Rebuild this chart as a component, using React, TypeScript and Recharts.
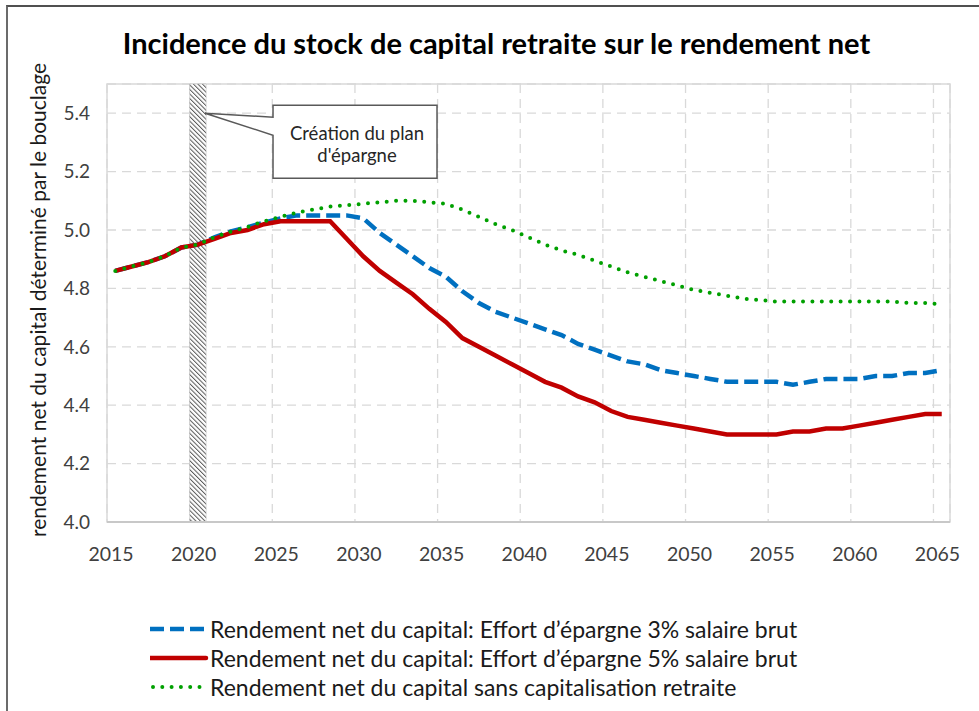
import React from 'react';
import { LineChart, Line, XAxis, YAxis, CartesianGrid, ReferenceArea, ReferenceDot, Label } from 'recharts';

const years = [
  2015, 2016, 2017, 2018, 2019, 2020, 2021, 2022, 2023, 2024,
  2025, 2026, 2027, 2028, 2029, 2030, 2031, 2032, 2033, 2034,
  2035, 2036, 2037, 2038, 2039, 2040, 2041, 2042, 2043, 2044,
  2045, 2046, 2047, 2048, 2049, 2050, 2051, 2052, 2053, 2054,
  2055, 2056, 2057, 2058, 2059, 2060, 2061, 2062, 2063, 2064, 2065,
];

// Effort d'épargne 3% salaire brut
const effort3 = [
  4.86, 4.875, 4.89, 4.91, 4.94, 4.95, 4.975, 4.995, 5.01, 5.025,
  5.04, 5.05, 5.05, 5.05, 5.05, 5.04, 4.99, 4.95, 4.91, 4.87,
  4.84, 4.79, 4.75, 4.72, 4.70, 4.68, 4.66, 4.64, 4.61, 4.59,
  4.57, 4.55, 4.54, 4.52, 4.51, 4.50, 4.49, 4.48, 4.48, 4.48,
  4.48, 4.47, 4.48, 4.49, 4.49, 4.49, 4.50, 4.50, 4.51, 4.51, 4.52,
];

// Effort d'épargne 5% salaire brut
const effort5 = [
  4.86, 4.875, 4.89, 4.91, 4.94, 4.95, 4.97, 4.99, 5.00, 5.02,
  5.03, 5.03, 5.03, 5.03, 4.97, 4.91, 4.86, 4.82, 4.78, 4.73,
  4.685, 4.63, 4.60, 4.57, 4.54, 4.51, 4.48, 4.46, 4.43, 4.41,
  4.38, 4.36, 4.35, 4.34, 4.33, 4.32, 4.31, 4.30, 4.30, 4.30,
  4.30, 4.31, 4.31, 4.32, 4.32, 4.33, 4.34, 4.35, 4.36, 4.37, 4.37,
];

// sans capitalisation retraite
const sansCapi = [
  4.86, 4.875, 4.89, 4.91, 4.94, 4.95, 4.975, 4.995, 5.01, 5.03,
  5.045, 5.06, 5.07, 5.08, 5.085, 5.09, 5.095, 5.10, 5.10, 5.095,
  5.09, 5.07, 5.045, 5.02, 5.00, 4.975, 4.95, 4.93, 4.915, 4.895,
  4.875, 4.855, 4.84, 4.825, 4.81, 4.795, 4.785, 4.775, 4.765, 4.76,
  4.755, 4.755, 4.755, 4.755, 4.755, 4.755, 4.755, 4.755, 4.75, 4.75, 4.745,
];

// gridlines sit on category boundaries (Excel "between tick marks")
const xGridTicks = [2014.5, 2019.5, 2024.5, 2029.5, 2034.5, 2039.5, 2044.5, 2049.5, 2054.5, 2059.5, 2064.5];
const xTickLabels = ['2015', '2020', '2025', '2030', '2035', '2040', '2045', '2050', '2055', '2060', '2065'];
const yTicks = [4.0, 4.2, 4.4, 4.6, 4.8, 5.0, 5.2, 5.4];

const seriesNames = [
  'Rendement net du capital: Effort d’épargne 3% salaire brut',
  'Rendement net du capital: Effort d’épargne 5% salaire brut',
  'Rendement net du capital sans capitalisation retraite',
];

const data = years.map((year, i) => ({
  year,
  effort3: effort3[i],
  effort5: effort5[i],
  sansCapi: sansCapi[i],
}));

const FONT = 'Lato, "Open Sans", sans-serif';
const BLUE = '#0070c0';
const RED = '#c00000';
const GREEN = '#00a000';

const XTick = (props: any) => {
  const { x, y, index } = props;
  return (
    <text x={x + 4} y={y} dy="0.71em" textAnchor="middle" fill="#404040" fontSize={19.5} fontFamily={FONT}>
      {xTickLabels[index]}
    </text>
  );
};

const Callout = (props: any) => {
  const { cx, cy } = props;
  const L = cx + 68;
  const R = cx + 232;
  const T = cy - 8;
  const B = cy + 65;
  const d = `M${L},${T} H${R} V${B} H${L} V${cy + 22} L${cx},${cy} L${L},${cy + 4} Z`;
  const mid = (L + R) / 2 + 2;
  return (
    <g>
      <path d={d} fill="#fff" stroke="#595959" strokeWidth={1.5} />
      <text x={mid} y={cy + 27} textAnchor="middle" fontSize={18.5} fill="#262626" fontFamily={FONT}>
        Création du plan
      </text>
      <text x={mid} y={cy + 49} textAnchor="middle" fontSize={18.5} fill="#262626" fontFamily={FONT}>
        d'épargne
      </text>
    </g>
  );
};

const LegendSample = ({ kind }: { kind: number }) => {
  if (kind === 0)
    return <line x1={0} y1={5} x2={56} y2={5} stroke={BLUE} strokeWidth={4.5} strokeDasharray="14 6" />;
  if (kind === 1)
    return <line x1={0} y1={5} x2={56} y2={5} stroke={RED} strokeWidth={4.5} strokeLinecap="round" />;
  return <line x1={3} y1={5} x2={56} y2={5} stroke={GREEN} strokeWidth={4} strokeDasharray="0 9.3" strokeLinecap="round" />;
};

export default function App() {
  return (
    <div style={{ position: 'absolute', left: 0, top: 0, width: 979, height: 711, background: '#fff', overflow: 'hidden', fontFamily: FONT }}>
      <div style={{ position: 'absolute', left: 6, top: 5, width: 1000, height: 720, borderLeft: '2px solid #6b6b6b', borderTop: '2px solid #505050' }} />
      <div style={{ position: 'absolute', left: 0, top: 25, width: 993, textAlign: 'center', fontSize: 29, fontWeight: 700, color: '#000' }}>
        Incidence du stock de capital retraite sur le rendement net
      </div>
      <div style={{ position: 'absolute', left: 0, top: 0 }}>
        <LineChart width={979} height={711} data={data} margin={{ top: 84, right: 29, bottom: 149, left: 47 }}>
          <defs>
            <pattern id="hatch" patternUnits="userSpaceOnUse" width={3.2} height={3.2} patternTransform="rotate(-45)">
              <rect width={3.2} height={3.2} fill="#fff" />
              <line x1={0} y1={0} x2={0} y2={3.2} stroke="#595959" strokeWidth={2} />
            </pattern>
          </defs>
          <CartesianGrid stroke="#d9d9d9" strokeWidth={1.3} strokeDasharray="9 6" />
          <XAxis
            type="number"
            dataKey="year"
            domain={[2014.5, 2065.5]}
            ticks={xGridTicks}
            interval={0}
            tick={<XTick />}
            tickLine={false}
            tickSize={6}
            tickMargin={19}
            height={40}
            axisLine={{ stroke: '#c8c8c8', strokeWidth: 2 }}
            allowDataOverflow
          />
          <YAxis
            type="number"
            domain={[4, 5.5]}
            ticks={yTicks}
            interval={0}
            width={60}
            tickLine={false}
            axisLine={false}
            tickSize={6}
            tickMargin={11}
            tickFormatter={(v: number) => v.toFixed(1)}
            tick={{ fill: '#404040', fontSize: 19, fontFamily: FONT }}
            allowDataOverflow
          >
            <Label
              content={(p: any) => {
                const vb = p.viewBox;
                const x = vb.x - 10;
                const y = vb.y + vb.height / 2 - 3;
                return (
                  <text x={x} y={y} transform={`rotate(-90 ${x} ${y})`} textAnchor="middle" dominantBaseline="central" fontSize={21} fill="#1a1a1a" fontFamily={FONT}>
                    rendement net du capital déterminé par le bouclage
                  </text>
                );
              }}
            />
          </YAxis>
          <ReferenceArea x1={2014.5} x2={2065.5} y1={4} y2={5.5} fill="none" stroke="#d9d9d9" strokeWidth={1.5} />
          <ReferenceArea x1={2019.5} x2={2020.5} y1={4} y2={5.5} fill="url(#hatch)" fillOpacity={1} stroke="#bfbfbf" strokeWidth={0.5} />
          <Line type="linear" dataKey="effort3" name={seriesNames[0]} stroke={BLUE} strokeWidth={4.5} strokeDasharray="14 6" dot={false} isAnimationActive={false} />
          <Line type="linear" dataKey="effort5" name={seriesNames[1]} stroke={RED} strokeWidth={4.5} dot={false} isAnimationActive={false} />
          <Line type="linear" dataKey="sansCapi" name={seriesNames[2]} stroke={GREEN} strokeWidth={4} strokeDasharray="0 9.4" strokeLinecap="round" dot={false} isAnimationActive={false} />
          <ReferenceDot x={2020.43} y={5.4} r={0} shape={<Callout />} />
        </LineChart>
      </div>
      <div style={{ position: 'absolute', left: 150, top: 614, fontSize: 23, color: '#1a1a1a' }}>
        {seriesNames.map((name, i) => (
          <div key={name} style={{ height: 29, display: 'flex', alignItems: 'center', whiteSpace: 'nowrap' }}>
            <svg width={60} height={10} style={{ flex: 'none' }}>
              <LegendSample kind={i} />
            </svg>
            <span>{name}</span>
          </div>
        ))}
      </div>
    </div>
  );
}
